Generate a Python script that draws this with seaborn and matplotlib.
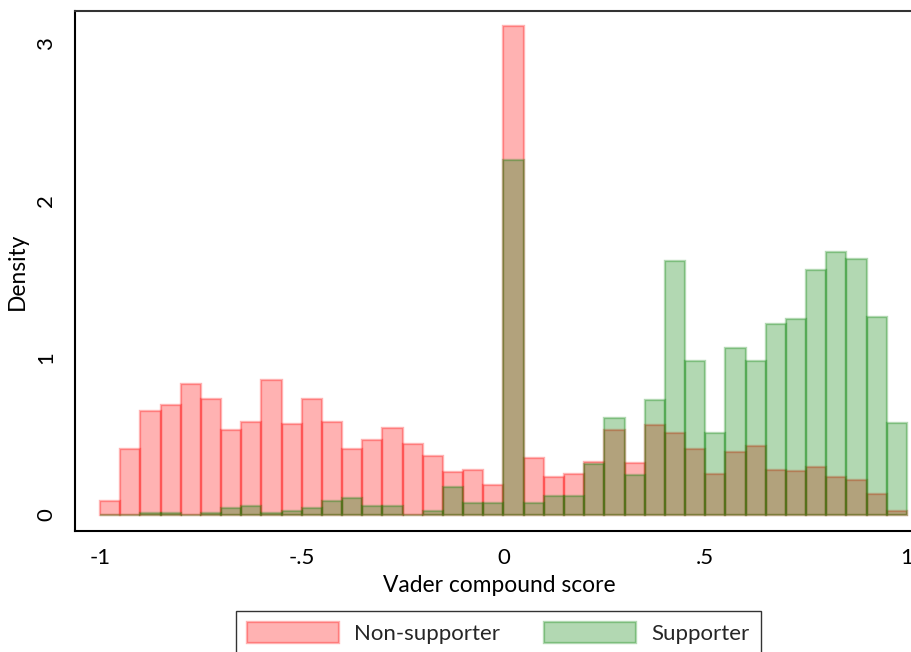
import numpy as np
import pandas as pd
import matplotlib
matplotlib.use("Agg")
import matplotlib.pyplot as plt
import seaborn as sns

# Histogram bins of the Vader compound score
bin_width = 0.05
score_range = (-1.0, 1.0)

# Density per bin, non-supporters
non_supporter = [
    0.091, 0.422, 0.662, 0.702, 0.833, 0.738, 0.539, 0.592, 0.859, 0.581,
    0.738, 0.592, 0.420, 0.477, 0.553, 0.453, 0.373, 0.275, 0.288, 0.191,
    3.113, 0.365, 0.243, 0.261, 0.339, 0.543, 0.333, 0.574, 0.520, 0.422,
    0.259, 0.399, 0.441, 0.288, 0.282, 0.307, 0.242, 0.221, 0.135, 0.027,
]

# Density per bin, supporters
supporter = [
    0.000, 0.000, 0.010, 0.010, 0.000, 0.010, 0.043, 0.059, 0.010, 0.027,
    0.043, 0.091, 0.110, 0.059, 0.059, 0.000, 0.027, 0.176, 0.074, 0.074,
    2.258, 0.074, 0.123, 0.123, 0.323, 0.619, 0.256, 0.733, 1.614, 0.982,
    0.524, 1.064, 0.982, 1.215, 1.247, 1.560, 1.673, 1.627, 1.260, 0.585,
]

group_labels = ["Non-supporter", "Supporter"]
x_ticks = [-1, -0.5, 0, 0.5, 1]
x_tick_labels = ["-1", "-.5", "0", ".5", "1"]
y_ticks = [0, 1, 2, 3]
y_tick_labels = ["0", "1", "2", "3"]

n_bins = len(non_supporter)
centers = score_range[0] + bin_width * (np.arange(n_bins) + 0.5)
df = pd.DataFrame({
    "score": np.concatenate([centers, centers]),
    "density": np.concatenate([non_supporter, supporter]),
    "group": [group_labels[0]] * n_bins + [group_labels[1]] * n_bins,
})

sns.set_theme(style="white")
plt.rcParams["font.family"] = ["Lato", "DejaVu Sans"]

fig = plt.figure(figsize=(9.12, 6.52), dpi=100)
ax = fig.add_axes([0.0822, 0.1856, 0.93, 0.7975])

# translucent fill and outline, supporters drawn on top
styles = {
    group_labels[0]: dict(facecolor=(1.0, 0.0, 0.0, 0.30), edgecolor=(1.0, 0.0, 0.0, 0.30)),
    group_labels[1]: dict(facecolor=(0.0, 0.5, 0.0, 0.30), edgecolor=(0.0, 0.5, 0.0, 0.30)),
}

for g in group_labels:
    sub = df[df["group"] == g]
    sns.histplot(
        data=sub, x="score", weights="density", binwidth=bin_width,
        binrange=score_range, stat="count",
        ax=ax, label=g, linewidth=1.7, **styles[g],
    )

ax.set_xlim(-1.062, 1.04)
ax.set_ylim(-0.102, 3.206)

ax.set_xticks(x_ticks)
ax.set_xticklabels(x_tick_labels)
ax.set_yticks(y_ticks)
ax.set_yticklabels(y_tick_labels, rotation=90, va="center")

ax.tick_params(axis="both", which="major", direction="out", length=7.5,
               width=0.9, color="black", labelsize=16, labelcolor="black")
ax.tick_params(axis="x", pad=5)
ax.tick_params(axis="y", pad=6)

for side in ["left", "bottom", "top", "right"]:
    ax.spines[side].set_visible(True)
    ax.spines[side].set_color("black")
    ax.spines[side].set_linewidth(1.5)
ax.spines["top"].set_color("#333333")

ax.set_xlabel("Vader compound score", fontsize=16.4, color="black", labelpad=5)
ax.set_ylabel("Density", fontsize=16.4, color="black", labelpad=6)
ax.grid(False)

handles, labels = ax.get_legend_handles_labels()
leg = fig.legend(
    handles, labels, loc="upper center", bbox_to_anchor=(0.5466, 0.0629),
    ncol=2, frameon=True, fancybox=False, fontsize=16,
    handlelength=4.14, handleheight=1.05, handletextpad=0.68,
    columnspacing=1.98, borderpad=0.5, borderaxespad=0.0,
)
leg.get_frame().set_edgecolor("black")
leg.get_frame().set_linewidth(1.0)

fig.savefig("out.png", dpi=100)
